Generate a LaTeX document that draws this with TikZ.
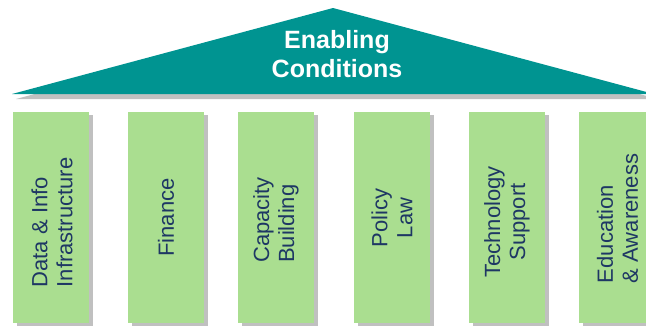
\documentclass[tikz,border=0pt]{standalone}
\usepackage{fontspec}
\setmainfont{Liberation Sans}
\usetikzlibrary{shadows}
\definecolor{roofteal}{RGB}{0,148,145}
\definecolor{pillargreen}{RGB}{170,222,144}
\definecolor{labelnavy}{RGB}{30,55,100}
\definecolor{shadegray}{RGB}{192,192,192}
\begin{document}
\begin{tikzpicture}[x=1pt,y=-1pt,
  pillar/.style={fill=pillargreen, minimum width=76pt, minimum height=211pt, inner sep=0pt,
    drop shadow={shadow xshift=4pt, shadow yshift=-3pt, fill=shadegray, opacity=1}},
  plabel/.style={rotate=90, text=labelnavy, font=\fontsize{22}{25}\selectfont, inner sep=0pt}]
\useasboundingbox (0,0) rectangle (646,325);
\clip (0,0) rectangle (646,325);
% roof
\fill[shadegray] (16,99) -- (337,13) -- (658,99) -- cycle;
\fill[roofteal] (12,94) -- (333,8) -- (654,94) -- cycle;
\node[text=white, font=\bfseries\fontsize{25}{29}\selectfont, align=center, inner sep=0pt] (title) at (337,54) {Enabling\\Conditions};
% pillars
\node[pillar] (p1) at (50.5,217.5) {};
\node[pillar] (p2) at (166,217.5) {};
\node[pillar] (p3) at (276,217.5) {};
\node[pillar] (p4) at (391.5,217.5) {};
\node[pillar] (p5) at (507,217.5) {};
\node[pillar] (p6) at (617,217.5) {};
% labels
\node[plabel, align=left] (t1) at (52,222.5) {Data \& Info\\Infrastructure};
\node[plabel] (t2) at (166,217.5) {Finance};
\node[plabel, align=left] (t3) at (276,220) {Capacity\\Building};
\node[plabel, align=center] (t4) at (392,218) {Policy\\Law};
\node[plabel, align=center] (t5) at (507,222) {Technology\\Support};
\node[plabel, align=left] (t6) at (617.5,218.5) {Education\\\& Awareness};
\end{tikzpicture}
\end{document}
